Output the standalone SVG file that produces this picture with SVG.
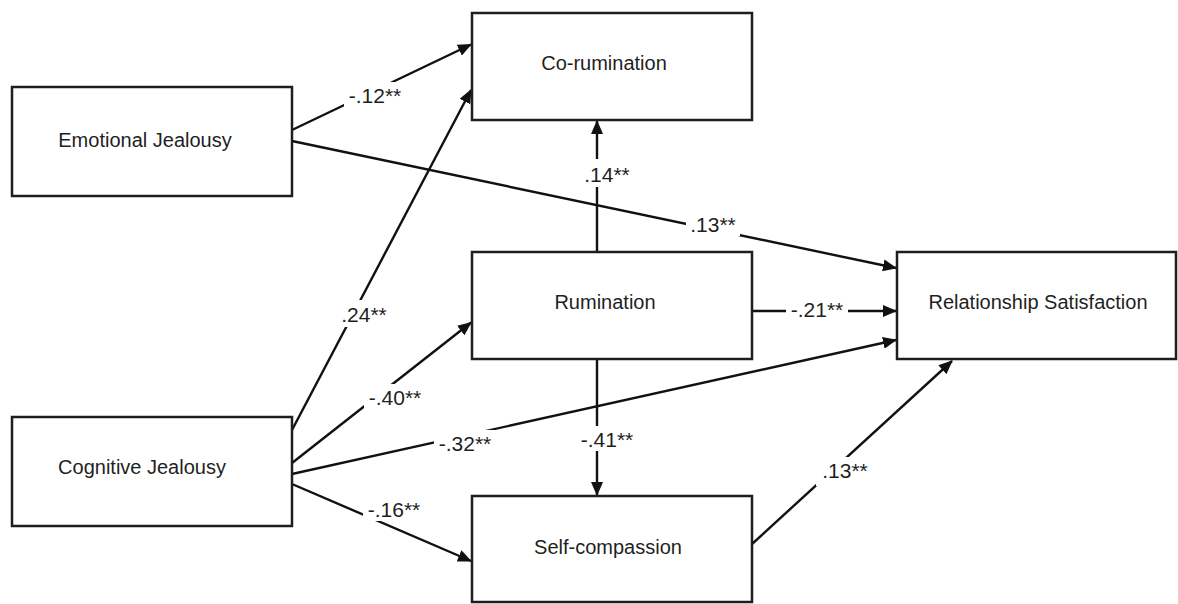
<svg xmlns="http://www.w3.org/2000/svg" width="1178" height="604" viewBox="0 0 1178 604">
  <style>
    .box { fill: #ffffff; stroke: #1e1e1e; stroke-width: 2.5; }
    .node-label { font-family: "Liberation Sans", Arial, sans-serif; font-size: 20px; fill: #1f1f1f; text-anchor: middle; }
    .edge { fill: none; stroke: #111111; stroke-width: 2.4; marker-end: url(#arrow); }
    .edge-plain { fill: none; stroke: #111111; stroke-width: 2.4; }
    .edge-label { font-family: "Liberation Sans", Arial, sans-serif; font-size: 21px; fill: #1f1f1f; text-anchor: middle; }
    .label-bg { fill: #ffffff; stroke: none; }
  </style>
  <defs>
    <marker id="arrow" markerUnits="userSpaceOnUse" markerWidth="14" markerHeight="12" refX="13" refY="6" orient="auto">
      <path d="M0,0 L14,6 L0,12 z" fill="#111111"/>
    </marker>
  </defs>

  <rect width="1178" height="604" fill="#ffffff"/>

  <!-- connectors -->
  <g id="connectors">
    <line class="edge" x1="292" y1="130" x2="471" y2="44.5"/>
    <line class="edge" x1="292" y1="141" x2="896" y2="268"/>
    <line class="edge" x1="292" y1="430" x2="471" y2="90"/>
    <line class="edge" x1="292" y1="463" x2="471" y2="322.5"/>
    <line class="edge" x1="292" y1="474" x2="896" y2="340"/>
    <line class="edge" x1="292" y1="484" x2="471" y2="561"/>
    <line class="edge" x1="597" y1="252" x2="597" y2="121"/>
    <line class="edge" x1="752" y1="311" x2="896" y2="311"/>
    <line class="edge" x1="597" y1="359" x2="597" y2="495"/>
    <line class="edge" x1="752" y1="544" x2="952" y2="361"/>

    <!-- coefficient labels with white backing that breaks the lines -->
    <rect class="label-bg" x="344" y="82" width="62" height="25"/>
    <text class="edge-label" x="375" y="103">-.12**</text>

    <rect class="label-bg" x="580" y="159" width="54" height="28"/>
    <text class="edge-label" x="607" y="182">.14**</text>

    <rect class="label-bg" x="686" y="213" width="54" height="23"/>
    <text class="edge-label" x="713" y="232">.13**</text>

    <rect class="label-bg" x="786" y="299" width="62" height="22"/>
    <text class="edge-label" x="817" y="317">-.21**</text>

    <rect class="label-bg" x="337" y="300" width="54" height="27"/>
    <text class="edge-label" x="364" y="322">.24**</text>

    <rect class="label-bg" x="364" y="384" width="62" height="25"/>
    <text class="edge-label" x="395" y="405">-.40**</text>

    <rect class="label-bg" x="434" y="430" width="62" height="25"/>
    <text class="edge-label" x="465" y="451">-.32**</text>

    <rect class="label-bg" x="576" y="426" width="62" height="25"/>
    <text class="edge-label" x="607" y="447">-.41**</text>

    <rect class="label-bg" x="816" y="457" width="56" height="29"/>
    <text class="edge-label" x="845" y="478">.13**</text>

    <rect class="label-bg" x="363" y="499" width="62" height="22"/>
    <text class="edge-label" x="394" y="517">-.16**</text>
  </g>

  <!-- nodes -->
  <g id="emotional-jealousy">
    <rect class="box" x="12" y="87" width="280" height="109"/>
    <text class="node-label" x="145" y="147">Emotional Jealousy</text>
  </g>
  <g id="cognitive-jealousy">
    <rect class="box" x="12" y="417" width="280" height="109"/>
    <text class="node-label" x="142" y="474">Cognitive Jealousy</text>
  </g>
  <g id="co-rumination">
    <rect class="box" x="472" y="13" width="280" height="107"/>
    <text class="node-label" x="604" y="70">Co-rumination</text>
  </g>
  <g id="rumination">
    <rect class="box" x="472" y="252" width="280" height="107"/>
    <text class="node-label" x="605" y="309">Rumination</text>
  </g>
  <g id="relationship-satisfaction">
    <rect class="box" x="897" y="252" width="279" height="107"/>
    <text class="node-label" x="1038" y="309">Relationship Satisfaction</text>
  </g>
  <g id="self-compassion">
    <rect class="box" x="472" y="496" width="280" height="106"/>
    <text class="node-label" x="608" y="554">Self-compassion</text>
  </g>
</svg>
